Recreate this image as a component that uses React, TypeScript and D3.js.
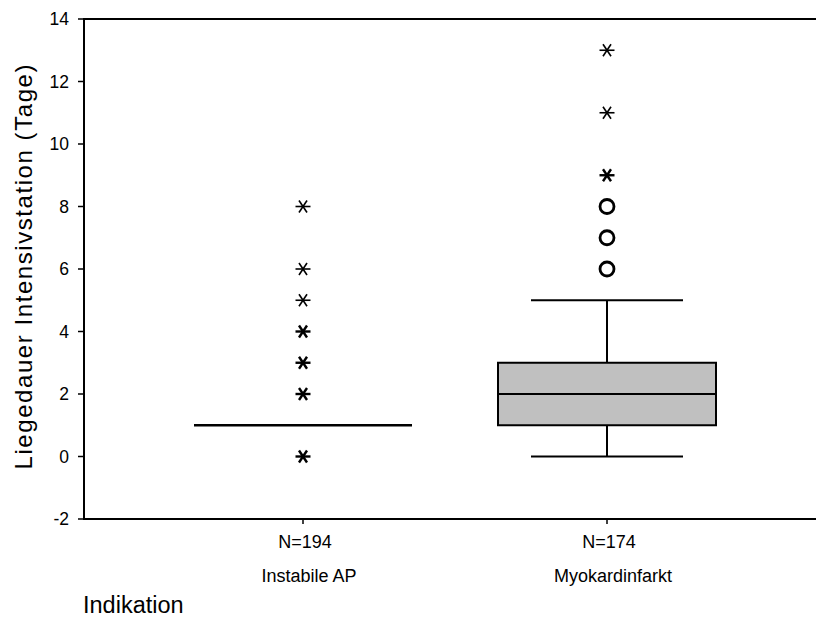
import React from "react";
import * as d3 from "d3";

const categories = ["Instabile AP", "Myokardinfarkt"];
const nLabels = ["N=194", "N=174"];
const q1 = [1, 1];
const median = [1, 2];
const q3 = [1, 3];
const whiskerLow = [1, 0];
const whiskerHigh = [1, 5];
// outliers (circles) and extremes (stars): [value, count]
const outliers: [number, number][][] = [[], [[6, 2], [7, 2], [8, 2]]];
const extremes: [number, number][][] = [
  [[0, 3], [2, 3], [3, 3], [4, 3], [5, 1], [6, 1], [8, 1]],
  [[9, 2], [11, 1], [13, 1]],
];
const yTicks = [-2, 0, 2, 4, 6, 8, 10, 12, 14];
const yTitle = "Liegedauer Intensivstation (Tage)";
const xTitle = "Indikation";

const W = 816;
const H = 619;
const left = 84;
const top = 19;
const bottom = 519;
const font = "Arial, 'Liberation Sans', Helvetica, sans-serif";

export default function App() {
  const y = d3.scaleLinear().domain([-2, 14]).range([bottom, top]);
  const x = d3.scalePoint<string>().domain(categories).range([151, 759]).padding(0.5);
  const boxW = 218;
  const capW = 152;

  const star = (cx: number, cy: number, sw: number, key: string) => {
    const r = 7.5;
    const dx = 4;
    const dy = 6;
    return (
      <g key={key} stroke="#000" strokeWidth={sw} fill="none">
        <line x1={cx - r} y1={cy} x2={cx + r} y2={cy} />
        <line x1={cx - dx} y1={cy - dy} x2={cx + dx} y2={cy + dy} />
        <line x1={cx - dx} y1={cy + dy} x2={cx + dx} y2={cy - dy} />
      </g>
    );
  };

  return (
    <svg
      width={W}
      height={H}
      style={{ position: "absolute", left: 0, top: 0, background: "#fff" }}
      fontFamily={font}
    >
      <rect x={0} y={0} width={W} height={H} fill="#fff" />
      {/* frame */}
      <line x1={left} y1={top} x2={W} y2={top} stroke="#000" strokeWidth={2} />
      <line x1={left} y1={bottom} x2={W} y2={bottom} stroke="#000" strokeWidth={2} />
      <line x1={left} y1={top - 1} x2={left} y2={bottom + 1} stroke="#000" strokeWidth={2} />
      {/* y ticks */}
      {yTicks.map((t) => (
        <g key={t}>
          <line x1={left - 6} x2={left} y1={y(t)} y2={y(t)} stroke="#000" strokeWidth={1.5} />
          <text x={left - 15} y={y(t)} dy="0.35em" textAnchor="end" fontSize={17.5} fill="#000">
            {t}
          </text>
        </g>
      ))}
      {/* y title */}
      <text
        transform={`translate(32,267) rotate(-90)`}
        textAnchor="middle"
        fontSize={24}
        textLength={405}
        lengthAdjust="spacing"
        fill="#000"
      >
        {yTitle}
      </text>
      {/* x ticks and labels */}
      {categories.map((c, i) => {
        const cx = x(c)!;
        return (
          <g key={c}>
            <line x1={cx} x2={cx} y1={bottom} y2={bottom + 5} stroke="#000" strokeWidth={1.5} />
            <text x={cx + 2} y={548} textAnchor="middle" fontSize={18} fill="#000">
              {nLabels[i]}
            </text>
            <text x={cx + 6} y={582} textAnchor="middle" fontSize={18} fill="#000">
              {c}
            </text>
          </g>
        );
      })}
      <text x={83} y={613} fontSize={23.5} fill="#000">
        {xTitle}
      </text>
      {/* boxes */}
      {categories.map((c, i) => {
        const cx = x(c)!;
        const collapsed = q1[i] === q3[i];
        return (
          <g key={"b" + c}>
            {!collapsed && (
              <>
                <line x1={cx} x2={cx} y1={y(whiskerHigh[i])} y2={y(q3[i])} stroke="#000" strokeWidth={2} />
                <line x1={cx} x2={cx} y1={y(q1[i])} y2={y(whiskerLow[i])} stroke="#000" strokeWidth={2} />
                <line x1={cx - capW / 2} x2={cx + capW / 2} y1={y(whiskerHigh[i])} y2={y(whiskerHigh[i])} stroke="#000" strokeWidth={2} />
                <line x1={cx - capW / 2} x2={cx + capW / 2} y1={y(whiskerLow[i])} y2={y(whiskerLow[i])} stroke="#000" strokeWidth={2} />
                <rect
                  x={cx - boxW / 2}
                  y={y(q3[i])}
                  width={boxW}
                  height={y(q1[i]) - y(q3[i])}
                  fill="#c0c0c0"
                  stroke="#000"
                  strokeWidth={2}
                />
              </>
            )}
            <line
              x1={cx - boxW / 2}
              x2={cx + boxW / 2}
              y1={y(median[i])}
              y2={y(median[i])}
              stroke="#000"
              strokeWidth={collapsed ? 2.5 : 2}
            />
            {outliers[i].map(([v, n]) => (
              <circle
                key={"o" + v}
                cx={cx}
                cy={y(v)}
                r={7}
                fill="none"
                stroke="#000"
                strokeWidth={n > 1 ? 2.8 : 2}
              />
            ))}
            {extremes[i].map(([v, n]) => star(cx, y(v), n > 1 ? 2.4 : 1.6, "s" + v))}
          </g>
        );
      })}
    </svg>
  );
}
